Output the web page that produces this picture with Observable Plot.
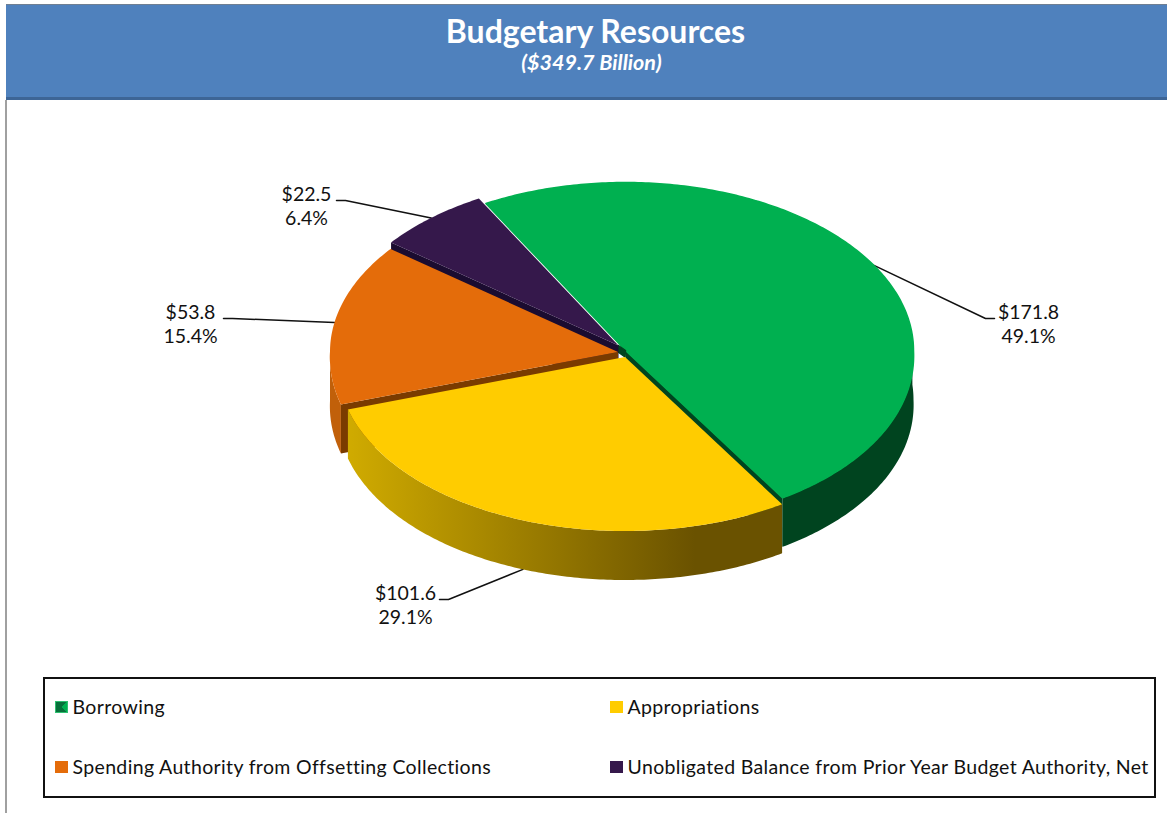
<!DOCTYPE html>
<html>
<head>
<meta charset="utf-8">
<script src="https://cdn.jsdelivr.net/npm/d3@7"></script>
<script src="https://cdn.jsdelivr.net/npm/@observablehq/plot@0.6"></script>
<style>
  html, body { margin: 0; padding: 0; background: #fff; overflow: hidden; }
  body { width: 1167px; height: 814px; position: relative; font-family: Lato, "Open Sans", sans-serif; color: #111; }
  #frame { position: absolute; left: 5px; top: 100px; width: 2px; height: 713px; background: #a0a0a0; }
  #banner { position: absolute; left: 6px; top: 4px; right: 0; height: 92px; background: #4f81bd;
            border-top: 1px solid #6f7f92; border-bottom: 3px solid #3d6596; color: #fff; text-align: center; }
  #banner h1 { margin: 0; position: absolute; left: 18px; right: 0; top: 8px; font-size: 32px; line-height: 36px; font-weight: 700; }
  #banner p  { margin: 0; position: absolute; left: 10px; right: 0; top: 45px; font-size: 21.5px; line-height: 24px; font-weight: 700; font-style: italic; }
  #chart { position: absolute; left: 0; top: 100px; }
  #legend { position: absolute; left: 43px; top: 677px; width: 1109px; height: 117px; border: 2px solid #111; }
  .entry { position: absolute; font-size: 19.5px; line-height: 22px; white-space: nowrap; letter-spacing: 0.35px; display: flex; align-items: center; }
  .chip { width: 13px; height: 12px; margin-right: 4.5px; flex: none; box-sizing: border-box; }
</style>
</head>
<body>
<div id="banner"><h1></h1><p></p></div>
<div id="frame"></div>
<div id="chart"></div>
<div id="legend"></div>
<script>
const title = "Budgetary Resources";
const subtitle = "($349.7 Billion)";

// Budgetary resources, billions of dollars, and the shares stated beside them
const categories = ["Borrowing", "Appropriations", "Spending Authority from Offsetting Collections", "Unobligated Balance from Prior Year Budget Authority, Net"];
const amounts = [171.8, 101.6, 53.8, 22.5];
const shares = ["49.1%", "29.1%", "15.4%", "6.4%"];
const topColors = ["#00b050", "#ffcc00", "#e46c0a", "#35184b"];

// Cut-face shade of each wedge
const faceColors = ["#00441f", "#6a5200", "#7a3b00", "#1b0c30"];
// Centre of each slightly pulled-out wedge, in page pixels
const wedgeCentres = [[625, 350], [624.5, 356.5], [617.5, 351.5], [618, 345]];
// Where each leader line bends before reaching its label, and how far the label sits from the bend
const calloutElbows = [[985, 318], [448, 599], [232, 318], [345, 200]];
const calloutOffsets = [43, -43, -42, -39];

const RX = 288, RY_BACK = 168, RY_FRONT = 174, DEPTH = 49, FLARE = 0.03, START = -29 * Math.PI / 180;

const arcs = d3.pie().sort(null).startAngle(START).endAngle(START + 2 * Math.PI)(amounts);

// Tilted-disc projection: the near half of the disc is drawn slightly larger
function project([cx, cy], angle, drop = 0) {
  const s = Math.sin(angle), c = Math.cos(angle);
  const near = c < 0;
  return {
    x: cx + RX * s * (near ? 1 - FLARE * c : 1),
    y: cy - (near ? RY_FRONT : RY_BACK) * c + drop
  };
}
function sweep(centre, a0, a1, drop = 0) {
  const n = Math.max(2, Math.ceil(Math.abs(a1 - a0) * 80));
  return d3.range(n + 1).map((i) => project(centre, a0 + (a1 - a0) * i / n, drop));
}
const apex = (centre, drop = 0) => ({x: centre[0], y: centre[1] + drop});

const topOf = (i) => [apex(wedgeCentres[i]), ...sweep(wedgeCentres[i], arcs[i].startAngle, arcs[i].endAngle)];
const wallOf = (i, a0, a1) => [...sweep(wedgeCentres[i], a0, a1), ...sweep(wedgeCentres[i], a1, a0, DEPTH)];
const faceOf = (i, edge) => {
  const c = wedgeCentres[i];
  return [apex(c), project(c, edge), project(c, edge, DEPTH), apex(c, DEPTH)];
};
// The small opening where the separated wedges meet shows the dark interior
const hub = wedgeCentres.map((c) => apex(c));

const shape = (pts, fill, stroke = "none") => Plot.line(pts, {x: "x", y: "y", fill, stroke, strokeWidth: 1.5, curve: "linear-closed"});

const rad = Math.PI / 180;

// Leader lines start on the rim at each wedge's mid-angle
const leaderRows = arcs.map((arc, i) => {
  const mid = (arc.startAngle + arc.endAngle) / 2;
  const onWall = Math.cos(mid) < 0 ? DEPTH : 0;
  const rim = project(wedgeCentres[i], mid, onWall);
  const [ex, ey] = calloutElbows[i];
  return [rim, {x: ex, y: ey}, {x: ex + Math.sign(calloutOffsets[i]) * 9, y: ey}];
});

const labelRows = calloutElbows.map(([ex, ey], i) => ({
  x: ex + calloutOffsets[i],
  y: ey,
  text: `$${amounts[i].toFixed(1)}\n${shares[i]}`
}));

const gradientDefs = () => {
  const defs = d3.create("svg:defs");
  const wall = defs.append("linearGradient").attr("id", "yellow-wall");
  wall.append("stop").attr("offset", "0").attr("stop-color", "#d0ab00");
  wall.append("stop").attr("offset", "0.8").attr("stop-color", "#6a5200");
  wall.append("stop").attr("offset", "1").attr("stop-color", "#6a5200");
  return defs.node();
};

const plot = Plot.plot({
  width: 1167,
  height: 570,
  margin: 0,
  axis: null,
  x: {domain: [0, 1167], range: [0, 1167]},
  y: {domain: [100, 670], range: [0, 570]},
  style: {background: "transparent", fontFamily: "Lato, 'Open Sans', sans-serif"},
  marks: [
    gradientDefs,
    // back-to-front: borrowing, prior-year balance, offsetting collections, appropriations
    ...leaderRows.filter((_, i) => i !== 1).map((pts) => Plot.line(pts, {x: "x", y: "y", stroke: "#111", strokeWidth: 1.5})),
    shape(wallOf(0, 85 * rad, arcs[0].endAngle), faceColors[0]),
    shape(faceOf(0, arcs[0].endAngle), faceColors[0]),
    shape(topOf(0), topColors[0], topColors[0]),
    shape(hub, faceColors[0], faceColors[0]),
    shape(faceOf(3, arcs[3].startAngle), faceColors[3]),
    shape(topOf(3), topColors[3]),
    shape(wallOf(2, arcs[2].startAngle, 270 * rad), "#c1600a"),
    shape(faceOf(2, arcs[2].startAngle), faceColors[2]),
    shape(topOf(2), topColors[2]),
    Plot.line(leaderRows[1], {x: "x", y: "y", stroke: "#111", strokeWidth: 1.5}),
    shape(wallOf(1, arcs[1].startAngle, arcs[1].endAngle), "url(#yellow-wall)"),
    shape(topOf(1), topColors[1]),
    Plot.text(labelRows, {x: "x", y: "y", text: "text", fontSize: 19.5, lineHeight: 1.23, fill: "#111", dy: 5})
  ]
});
document.getElementById("chart").append(plot);

document.querySelector("#banner h1").textContent = title;
document.querySelector("#banner p").textContent = subtitle;

// Legend: two columns, two rows, in wedge order
const legend = document.getElementById("legend");
categories.forEach((label, i) => {
  const row = document.createElement("div");
  row.className = "entry";
  row.style.left = (i % 2 ? 565 : 10) + "px";
  row.style.top = (i < 2 ? 17 : 77) + "px";
  const chip = document.createElement("span");
  chip.className = "chip";
  if (i === 0) {
    // Borrowing's key carries the bevelled look of its wedge
    chip.style.background = "conic-gradient(from 45deg, #00b050 0 25%, #07703a 25% 100%)";
    chip.style.border = "1px solid #2fc070";
  } else {
    chip.style.background = topColors[i];
  }
  const name = document.createElement("span");
  name.textContent = label;
  row.append(chip, name);
  legend.append(row);
});
</script>
</body>
</html>
